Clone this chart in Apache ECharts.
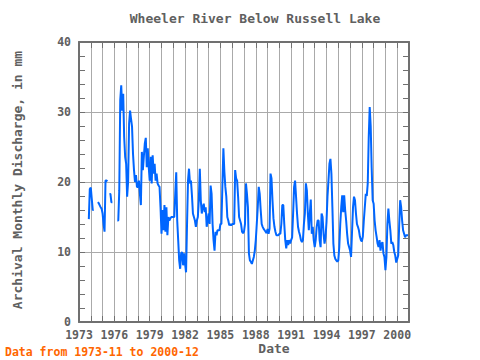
<!DOCTYPE html>
<html>
<head>
<meta charset="utf-8">
<script src="https://cdn.jsdelivr.net/npm/echarts@6/dist/echarts.min.js"></script>
<style>html,body{margin:0;padding:0;background:#fff;}#c{width:480px;height:360px;}</style>
</head>
<body>
<div id="c"></div>
<script>
// Monthly discharge (mm), series starts January 1973; null = no data
const startYear = 1973;
const flow1970s = [
  null,null,null,null,null,null,null,null,null,null,14.7,19.0,          // 1973
  19.2,17.6,16.0,16.0,null,null,null,17.1,17.0,16.7,16.4,16.2,          // 1974
  15.5,14.0,12.9,20.2,20.2,20.1,null,18.3,18.3,17.1,17.1,null,          // 1975
  null,null,null,14.5,14.5,18.8,31.7,33.8,30.2,32.6,26.4,23.6,          // 1976
  22.6,17.9,20.0,28.3,30.2,29.0,27.9,24.0,21.7,20.0,21.0,19.3,          // 1977
  19.3,20.2,18.3,16.7,24.3,21.7,23.6,25.5,26.3,22.1,24.8,22.1,          // 1978
  20.2,23.6,19.8,23.8,21.2,22.6,20.2,21.2,19.8,19.5,19.3,16.4           // 1979
];
const flow1980s = [
  12.6,16.0,13.1,16.7,12.9,16.4,12.4,15.0,14.5,14.8,15.0,15.0,          // 1980
  15.0,15.0,18.3,21.4,14.5,11.7,8.8,7.6,9.8,10.0,8.1,9.8,               // 1981
  8.3,7.1,14.0,20.2,21.9,19.8,20.2,18.1,15.5,15.0,14.5,13.6,            // 1982
  14.5,15.0,17.4,21.9,17.4,15.5,16.4,16.9,15.7,16.4,13.6,14.5,          // 1983
  15.5,14.0,19.5,18.3,14.0,11.7,10.2,12.9,12.4,13.1,13.1,13.1,          // 1984
  14.0,14.0,19.5,24.8,21.5,19.3,17.9,15.0,14.5,13.8,14.0,13.8,          // 1985
  14.0,14.0,14.0,21.7,20.5,20.2,17.9,15.0,14.5,14.0,12.9,12.7,          // 1986
  12.9,14.0,19.8,18.3,16.4,9.8,8.8,8.6,8.3,8.8,9.3,10.2,                // 1987
  11.7,14.0,16.4,19.3,18.3,16.0,14.0,13.6,13.3,13.1,12.9,12.7,          // 1988
  13.3,12.6,13.3,21.2,20.5,17.4,14.8,13.6,12.9,12.4,12.4,12.4           // 1989
];
const flow1990s = [
  12.6,12.6,14.0,16.7,16.7,14.0,11.7,10.5,11.7,11.0,11.7,11.2,          // 1990
  11.7,12.1,15.5,19.3,20.2,17.9,15.5,13.6,12.9,12.4,11.7,11.4,          // 1991
  11.7,14.0,15.5,19.8,18.8,15.5,13.1,15.5,17.5,12.6,13.6,11.7,          // 1992
  10.7,11.7,13.6,14.5,14.5,11.7,10.7,15.5,15.0,12.6,11.2,12.1,          // 1993
  14.3,17.9,20.2,22.6,23.3,21.2,16.4,11.2,9.5,9.0,8.8,8.6,              // 1994
  8.8,10.7,14.0,16.4,18.1,15.7,18.1,16.0,14.5,12.6,11.2,10.7,           // 1995
  10.2,9.3,12.9,16.4,17.9,17.4,15.5,14.0,13.6,13.1,12.2,11.7,           // 1996
  11.5,12.2,14.5,16.4,18.3,18.0,19.8,26.4,30.7,28.0,22.0,17.4,          // 1997
  16.9,14.5,13.1,12.2,11.2,10.7,11.7,10.2,11.2,11.4,9.8,9.3,            // 1998
  7.4,9.3,14.0,16.2,14.5,13.1,11.2,11.4,11.0,10.0,9.5,8.5               // 1999
];
const flow2000s = [
  9.0,9.5,13.8,17.4,16.4,14.5,13.1,12.6,12.1,12.4,12.4,12.4             // 2000
];
const xLabelYears = [1973,1976,1979,1982,1985,1988,1991,1994,1997,2000];
const yTickValues = [0,10,20,30,40];

const monthly = [].concat(flow1970s, flow1980s, flow1990s, flow2000s);
const seriesData = monthly.map((v, i) => [startYear + i / 12, v]);

const FONT = 'DejaVu Sans Mono';
const AXIS_COLOR = '#707070';
const TEXT_COLOR = '#606060';

const chart = echarts.init(document.getElementById('c'), null, {renderer: 'svg', width: 480, height: 360});

const xBase = {
  type: 'value', min: 1973, max: 2001, interval: 1,
  axisLine: {show: true, onZero: false, lineStyle: {color: AXIS_COLOR, width: 2}},
  axisTick: {show: true, inside: true, length: 6, lineStyle: {color: AXIS_COLOR, width: 1}}
};
const yBase = {
  type: 'value', min: 0, max: 40, interval: 10,
  axisLine: {show: true, onZero: false, lineStyle: {color: AXIS_COLOR, width: 2}},
  axisTick: {show: true, inside: true, length: 6, lineStyle: {color: AXIS_COLOR, width: 1}},
  minorTick: {show: true, splitNumber: 5, length: 6, lineStyle: {color: AXIS_COLOR, width: 1}}
};

chart.setOption({
  animation: false,
  backgroundColor: '#ffffff',
  grid: {left: 79, right: 71, top: 42, bottom: 38, containLabel: false},
  xAxis: [
    Object.assign({}, xBase, {
      position: 'bottom',
      splitLine: {show: true, lineStyle: {color: '#aaaaaa', width: 1}},
      axisLabel: {
        show: true, margin: 7, color: TEXT_COLOR, fontFamily: FONT, fontSize: 11.5, fontWeight: 'bold',
        lineHeight: 12,
        formatter: v => xLabelYears.indexOf(Math.round(v)) >= 0 ? String(Math.round(v)) : ''
      }
    }),
    Object.assign({}, xBase, {
      position: 'top', splitLine: {show: false}, axisLabel: {show: false}
    })
  ],
  yAxis: [
    Object.assign({}, yBase, {
      position: 'left',
      splitLine: {show: true, lineStyle: {color: '#aaaaaa', width: 1}},
      axisLabel: {
        show: true, margin: 8, color: TEXT_COLOR, fontFamily: FONT, fontSize: 11.5, fontWeight: 'bold',
        lineHeight: 11,
        formatter: v => yTickValues.indexOf(v) >= 0 ? String(v) : ''
      }
    }),
    Object.assign({}, yBase, {
      position: 'right', splitLine: {show: false}, axisLabel: {show: false}
    })
  ],
  series: [{
    type: 'line',
    xAxisIndex: 0, yAxisIndex: 0,
    data: seriesData,
    showSymbol: false,
    connectNulls: false,
    lineStyle: {color: '#0066ff', width: 2},
    itemStyle: {color: '#0066ff'},
    z: 5
  }],
  graphic: [
    {type: 'text', x: 255, y: 18, style: {text: 'Wheeler River Below Russell Lake', fill: TEXT_COLOR,
      font: 'bold 13px "' + FONT + '"', textAlign: 'center', textVerticalAlign: 'middle'}},
    {type: 'text', x: 17, y: 180, rotation: Math.PI / 2, style: {text: 'Archival Monthly Discharge, in mm', fill: TEXT_COLOR,
      font: 'bold 13px "' + FONT + '"', textAlign: 'center', textVerticalAlign: 'middle'}},
    {type: 'text', x: 274, y: 348, style: {text: 'Date', fill: TEXT_COLOR,
      font: 'bold 13px "' + FONT + '"', textAlign: 'center', textVerticalAlign: 'middle'}},
    {type: 'text', x: 5, y: 352, style: {text: 'Data from 1973-11 to 2000-12', fill: '#ff6600',
      font: 'bold 11.5px "' + FONT + '"', textAlign: 'left', textVerticalAlign: 'middle'}}
  ]
});
</script>
</body>
</html>
